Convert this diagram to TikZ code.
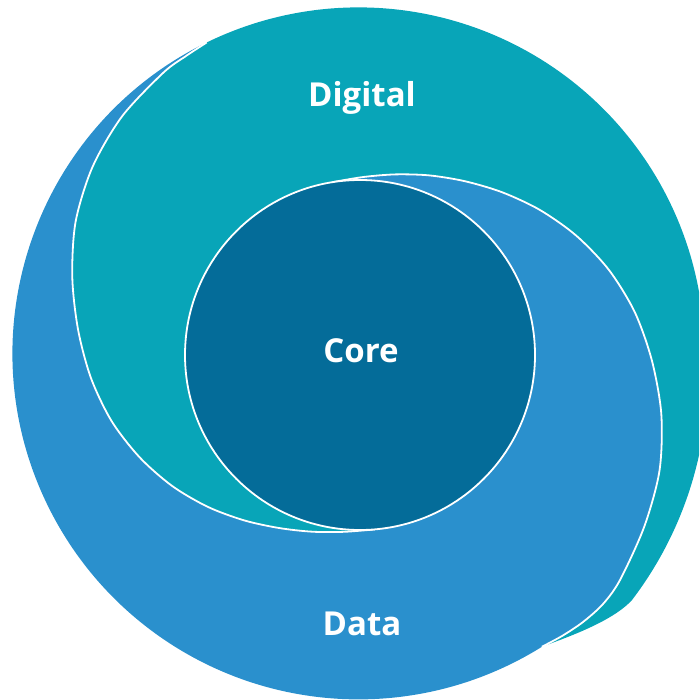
\documentclass[tikz,border=0pt]{standalone}
\usepackage{fontspec}
\setmainfont{Open Sans}
\definecolor{digitalteal}{HTML}{08A5B8}
\definecolor{datablue}{HTML}{2A90CD}
\definecolor{coreblue}{HTML}{046C99}
\begin{document}
\begin{tikzpicture}[x=1pt,y=-1pt,
  swirl/.style={white,line width=1.8pt},
  lbl/.style={text=white,font=\fontsize{33}{39}\selectfont\bfseries,anchor=base,inner sep=0pt},
  corecircle/.style={circle,fill=coreblue,draw=white,line width=1.8pt,minimum size=350pt,inner sep=0pt}]
\useasboundingbox (0,0) rectangle (699,700);
\clip (0,0) rectangle (699,700);
\coordinate (J1) at (206.8,42.4);
\coordinate (J2) at (541.8,646.8);
% Data band
\fill[datablue] (J1) arc[start angle=244, end angle=58, radius=346]
  -- plot[smooth] coordinates {(541.8,646.8) (562,636) (583,622) (603,604) (620,580) (644.3,526.5) (659.5,470.6) (661.3,414.1) (651.9,360.6) (634.7,312) (608.8,269.8) (576.2,235.6) (539.8,209.9) (502,192.2) (464.8,181.2) (429.3,175.4) (395.4,174.4) (363.4,177) (332.9,182.1)}
  -- plot[smooth] coordinates {(374.9,529.4) (344.2,531.8) (312.3,531.7) (279,528) (243.9,520.3) (207.7,506.8) (172.2,486) (139.6,457.3) (111.6,421.1) (91,378.1) (78.1,329.8) (72.3,277.4) (75.6,221.8) (92.5,167) (122.1,116.3) (163.2,72.8) (186,56) (206.8,42.4)}
  -- cycle;
% Digital band
\fill[digitalteal] (J2) .. controls (565,638) and (612,622) .. (632,600)
  arc[start angle=37.3, end angle=-9.9, radius=369.7]
  arc[start angle=353.2, end angle=244, radius=346]
  -- plot[smooth] coordinates {(206.8,42.4) (186,56) (163.2,72.8) (122.1,116.3) (92.5,167) (75.6,221.8) (72.3,277.4) (78.1,329.8) (91,378.1) (111.6,421.1) (139.6,457.3) (172.2,486) (207.7,506.8) (243.9,520.3) (279,528) (312.3,531.7) (344.2,531.8) (374.9,529.4)}
  -- plot[smooth] coordinates {(332.9,182.1) (363.4,177) (395.4,174.4) (429.3,175.4) (464.8,181.2) (502,192.2) (539.8,209.9) (576.2,235.6) (608.8,269.8) (634.7,312) (651.9,360.6) (661.3,414.1) (659.5,470.6) (644.3,526.5) (620,580) (603,604) (583,622) (562,636) (541.8,646.8)}
  -- cycle;
% white separating curves
\draw[swirl] plot[smooth] coordinates {(541.8,646.8) (562,636) (583,622) (603,604) (620,580) (644.3,526.5) (659.5,470.6) (661.3,414.1) (651.9,360.6) (634.7,312) (608.8,269.8) (576.2,235.6) (539.8,209.9) (502,192.2) (464.8,181.2) (429.3,175.4) (395.4,174.4) (363.4,177) (332.9,182.1)};
\draw[swirl] plot[smooth] coordinates {(374.9,529.4) (344.2,531.8) (312.3,531.7) (279,528) (243.9,520.3) (207.7,506.8) (172.2,486) (139.6,457.3) (111.6,421.1) (91,378.1) (78.1,329.8) (72.3,277.4) (75.6,221.8) (92.5,167) (122.1,116.3) (163.2,72.8) (186,56) (206.8,42.4)};
% core
\node[corecircle] (core) at (360,355) {};
\node[lbl] (digital) at (362,107) {Digital};
\node[lbl] (coretext) at (361,362) {Core};
\node[lbl] (data) at (362,635) {Data};
\end{tikzpicture}
\end{document}
